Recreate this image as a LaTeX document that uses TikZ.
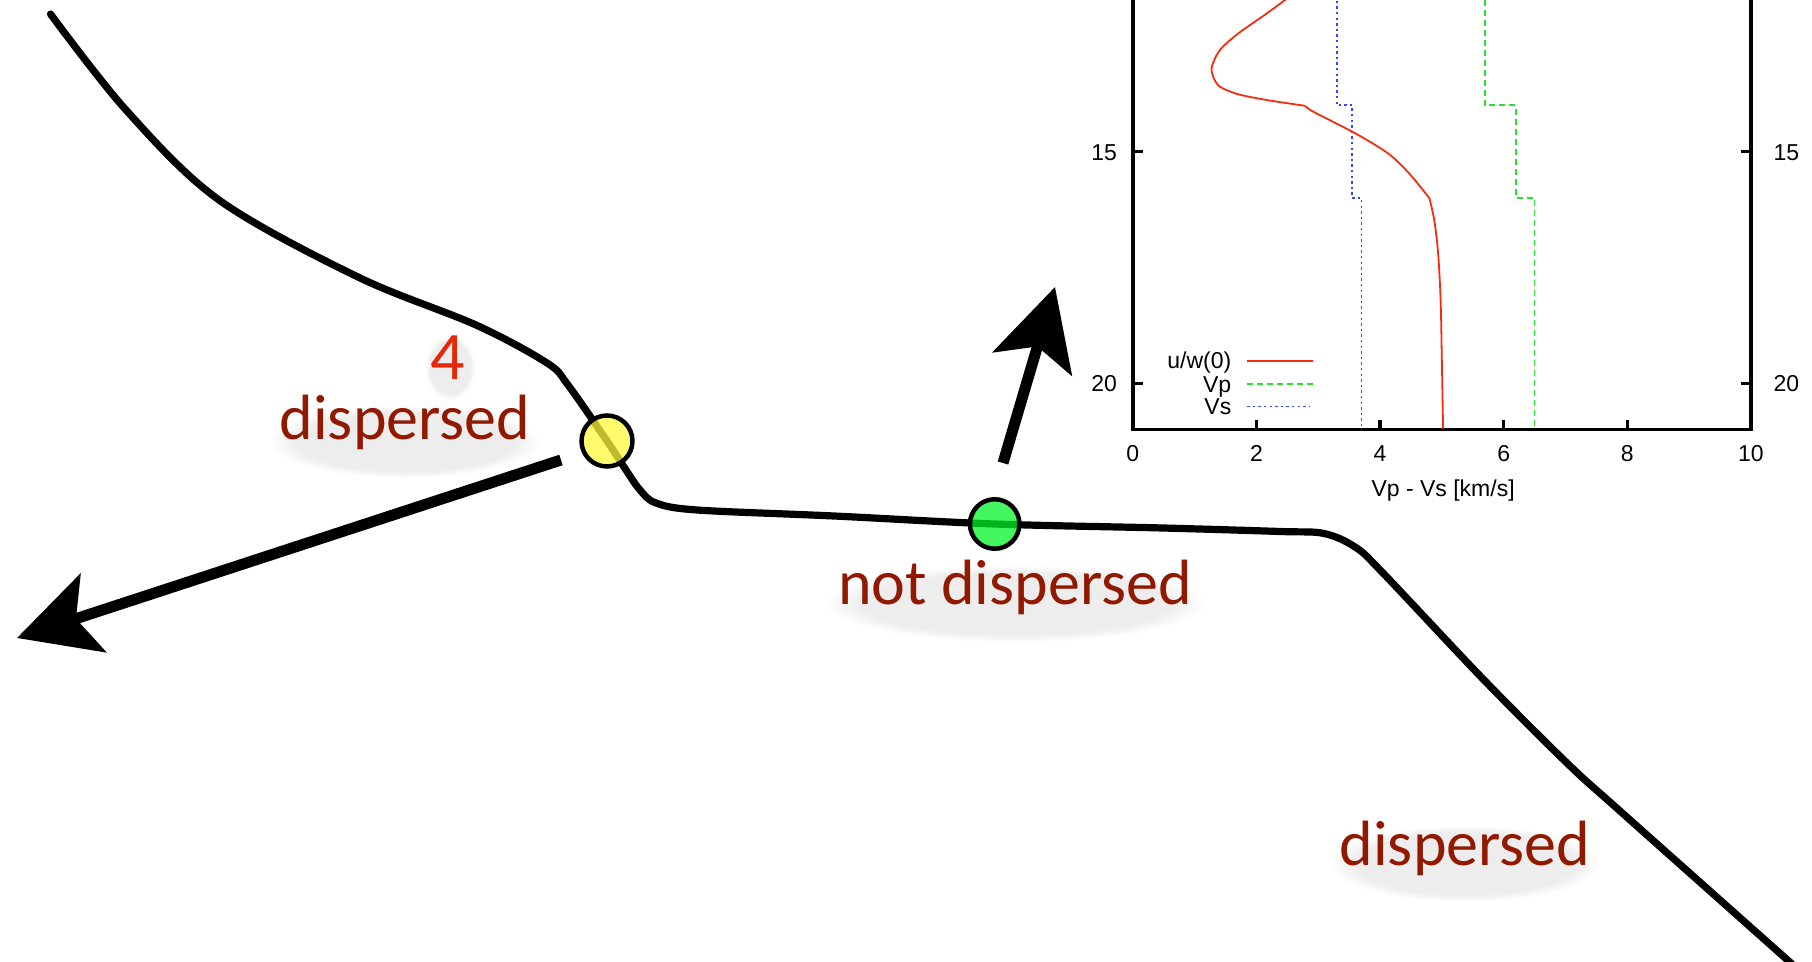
\documentclass[tikz,border=0pt]{standalone}
\usepackage{fontspec}
\setmainfont{Carlito}
\newfontfamily\plotfont{Liberation Sans}
\usetikzlibrary{arrows.meta,fadings}
\definecolor{labred}{RGB}{145,25,0}
\definecolor{fourred}{RGB}{230,40,10}
\definecolor{curvered}{RGB}{245,45,15}
\definecolor{vpgreen}{RGB}{40,225,40}
\definecolor{vsblue}{RGB}{50,70,255}
\definecolor{ballyellow}{RGB}{255,249,59}
\definecolor{ballgreen}{RGB}{0,244,40}
\begin{document}
\begin{tikzpicture}[x=0.5pt,y=-0.5pt,
  lbl/.style={text=labred, font=\fontsize{32}{38}\selectfont, inner sep=0pt, anchor=base},
  numlbl/.style={text=fourred, font=\fontsize{34}{40}\selectfont, inner sep=0pt, anchor=base},
  ball/.style={circle, draw=black, line width=2.25pt, inner sep=0pt},
  bigarrow/.style={line width=5.5pt, -{Stealth[length=40pt,width=41pt,inset=9pt]}},
  mainline/.style={line width=3.6pt, line cap=round, line join=round},
  softshadow/.style={fill=black, opacity=0.07, path fading=circle with fuzzy edge 20 percent},
  axisline/.style={line width=1.75pt},
  ticklbl/.style={font=\plotfont\fontsize{11.5}{13}\selectfont, inner sep=0pt},
  plotcurve/.style={line width=0.9pt}
]
\useasboundingbox (0,0) rectangle (1812,962);

% text shadows
\fill[softshadow] (270,405) rectangle (540,478);
\fill[softshadow] (425,335) rectangle (475,400);
\fill[softshadow] (825,565) rectangle (1205,642);
\fill[softshadow] (1330,825) rectangle (1600,902);

% main curve
\draw[mainline] plot[smooth, tension=0.55] coordinates {
 (50.5,14) (126,110) (219,200) (358,277)
 (476,325) (547,363) (568,385) (607,441)
 (626,470) (640,490) (656,503) (697,510) (834,516) (994.7,524)
 (1163,528) (1280,531.5) (1324,533.5) (1355,547) (1382,572) (1484,680)
 (1568,764) (1620,811) (1792,964)};

% nodes on the curve
\node[ball, fill=ballyellow, fill opacity=0.75, minimum size=25.5pt] (yball) at (607,441) {};
\node[ball, fill=ballgreen, fill opacity=0.74, minimum size=24.75pt] (gball) at (994.7,524) {};

% arrows
\coordinate (a1tail) at (561,460);
\coordinate (a1tip) at (17,638);
\coordinate (a2tail) at (1003,463);
\coordinate (a2tip) at (1055,287);
\draw[bigarrow] (a1tail) -- (a1tip);
\draw[bigarrow] (a2tail) -- (a2tip);

% labels
\node[numlbl] (four) at (448,380) {4};
\node[lbl] (dleft) at (405,440) {dispersed};
\node[lbl] (notd) at (1015,605) {not dispersed};
\node[lbl] (dright) at (1465,865) {dispersed};

% inset plot
\begin{scope}[shift={(566.375pt,271.625pt)}, x=30.91pt, y=-23.165pt]
  \draw[axisline] (0,11.5) -- (0,21) -- (10,21) -- (10,11.5);
  \foreach \d in {15,20} {
    \draw[axisline] (0,\d) -- (0.162,\d);
    \draw[axisline] (10,\d) -- (9.838,\d);
    \node[ticklbl, anchor=base east] at (-0.25,\d+0.18) {\d};
    \node[ticklbl, anchor=base west] at (10.36,\d+0.18) {\d};
  }
  \foreach \v in {2,4,6,8} \draw[axisline] (\v,21) -- (\v,20.784);
  \foreach \v in {0,2,4,6,8,10} \node[ticklbl, anchor=base] at (\v,21.68) {\v};
  \node[ticklbl, anchor=base] (xlab) at (5.02,22.44) {Vp - Vs [km/s]};
  % curves
  \draw[plotcurve, vsblue, dash pattern=on 1.2pt off 1.6pt]
    (3.3,11.5) -- (3.3,14) -- (3.55,14) -- (3.55,16) -- (3.7,16) -- (3.7,21);
  \draw[plotcurve, vpgreen, dash pattern=on 3pt off 2pt]
    (5.7,11.5) -- (5.7,14) -- (6.2,14) -- (6.2,16) -- (6.5,16) -- (6.5,21);
  \draw[plotcurve, curvered] plot[smooth, tension=0.5] coordinates {
    (2.5,11.69) (2.17,12.014) (1.71,12.445) (1.41,12.805) (1.28,13.165)
    (1.30,13.381) (1.41,13.597) (1.71,13.762) (2.17,13.885) (2.79,14.01)};
  \draw[plotcurve, curvered] plot[smooth, tension=0.5] coordinates {
    (2.79,14.01) (2.92,14.136) (3.60,14.604) (4.13,15.036) (4.47,15.467)
    (4.80,16.007)};
  \draw[plotcurve, curvered] plot[smooth, tension=0.5] coordinates {
    (4.80,16.007) (4.88,16.5) (4.94,17.2) (4.98,18.2) (5.0,19.5) (5.02,20.98)};
  % legend
  \node[ticklbl, anchor=base east] (lu) at (1.60,19.69) {u/w(0)};
  \node[ticklbl, anchor=base east] (lp) at (1.60,20.19) {Vp};
  \node[ticklbl, anchor=base east] (ls) at (1.60,20.68) {Vs};
  \draw[plotcurve, curvered] (1.85,19.51) -- (2.92,19.51);
  \draw[plotcurve, vpgreen, dash pattern=on 3pt off 2pt] (1.85,20.01) -- (2.92,20.01);
  \draw[plotcurve, vsblue, dash pattern=on 1.2pt off 1.6pt] (1.85,20.50) -- (2.85,20.50);
\end{scope}
\end{tikzpicture}
\end{document}
